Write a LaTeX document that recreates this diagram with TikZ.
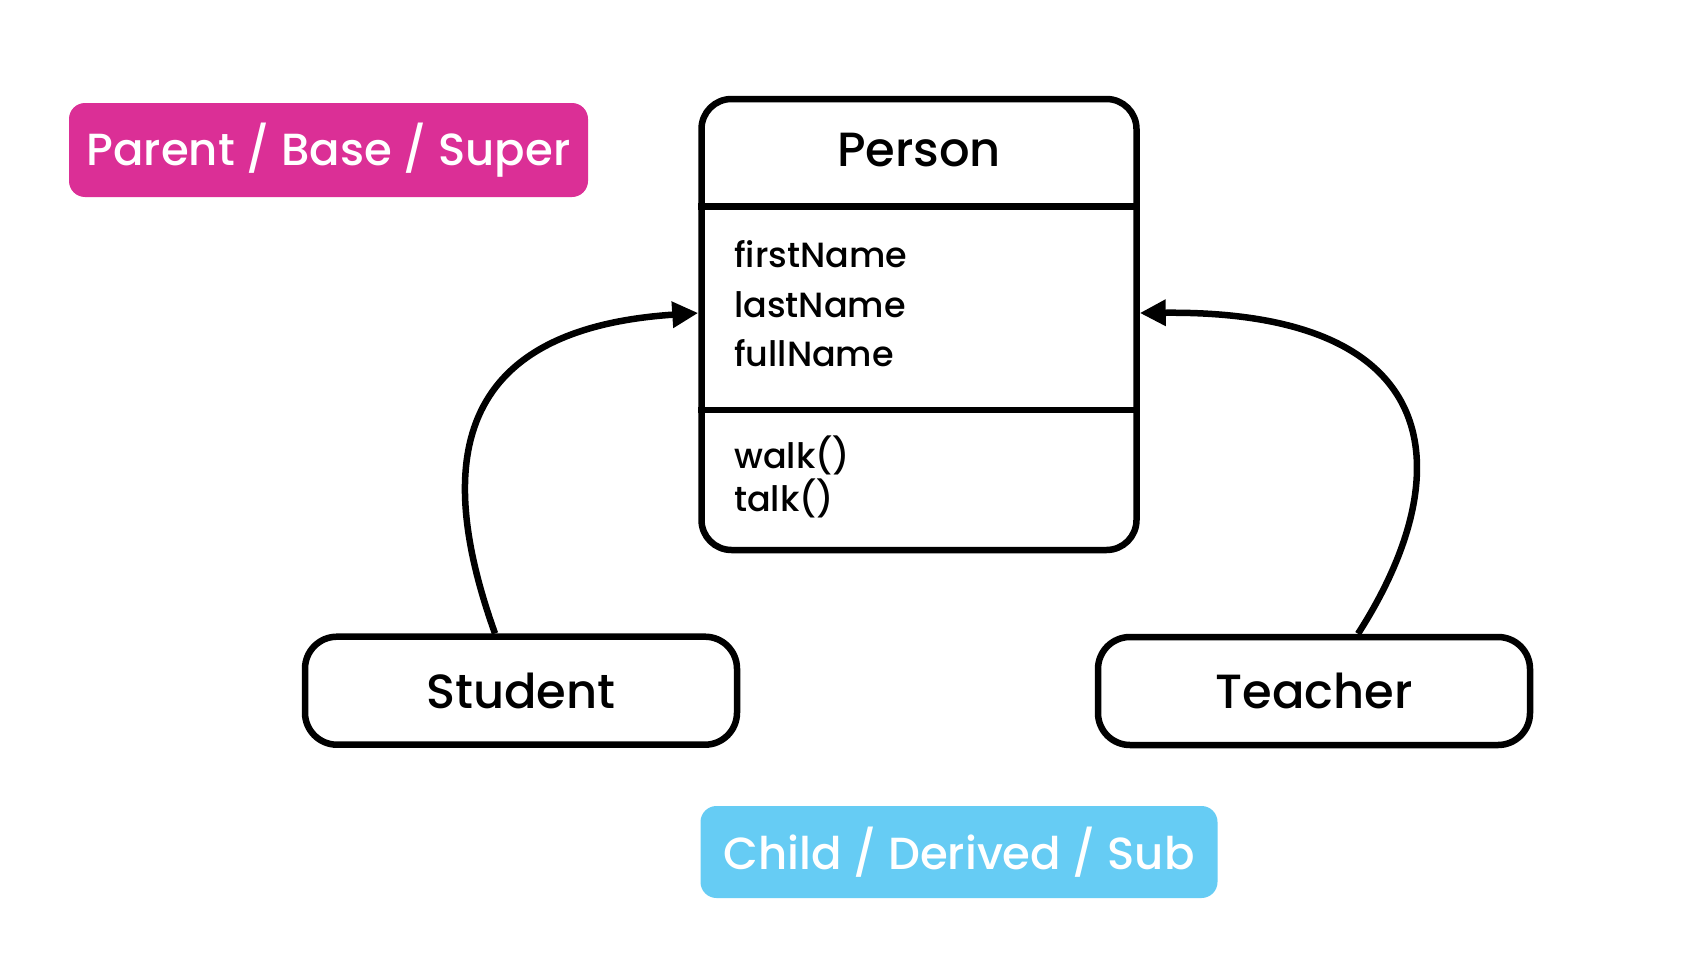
\documentclass[tikz,border=0pt]{standalone}
\usepackage{fontspec}
\setmainfont{Poppins}[UprightFont={* Medium}, BoldFont={* SemiBold}]
\usetikzlibrary{arrows.meta}
\definecolor{pinkbox}{HTML}{DB2F96}
\definecolor{bluebox}{HTML}{66CCF4}
\tikzset{
  umlline/.style={line width=6.5pt, black},
  classbox/.style={umlline, draw, rectangle, rounded corners=30pt, minimum width=435pt, minimum height=451pt, inner sep=0pt},
  kidbox/.style={umlline, draw, rectangle, rounded corners=32pt, minimum width=432pt, minimum height=108pt, inner sep=0pt, font=\fontsize{48}{58}\selectfont},
  tagbox/.style={rectangle, rounded corners=16pt, inner sep=0pt, text=white, font=\fontsize{45}{54}\selectfont},
  member/.style={anchor=base west, inner sep=0pt, font=\fontsize{35}{42}\selectfont},
  inherit/.style={umlline, -{Triangle[length=26pt, width=25pt]}},
}
\begin{document}
\begin{tikzpicture}[x=1pt, y=-1pt]
\useasboundingbox[fill=white] (0,0) rectangle (1708,966);
% labels
\node[tagbox, fill=pinkbox, minimum width=519pt, minimum height=94pt] (parent) at (328.5,150) {Parent / Base / Super};
\node[tagbox, fill=bluebox, minimum width=517pt, minimum height=92pt] (child) at (959,852) {Child / Derived / Sub};
% Person class
\node[classbox] (person) at (919,324.5) {};
\node[inner sep=0pt, font=\fontsize{48}{58}\selectfont] (ptitle) at (919,150) {Person};
\draw[umlline] (person.west |- 0,206.5) coordinate (d1l) -- (person.east |- 0,206.5) coordinate (d1r);
\draw[umlline] (person.west |- 0,410) coordinate (d2l) -- (person.east |- 0,410) coordinate (d2r);
\node[member] (a1) at (734,267) {firstName};
\node[member] (a2) at (734,317) {lastName};
\node[member] (a3) at (734,366) {fullName};
\node[member] (m1) at (734,468) {walk()};
\node[member] (m2) at (734,511) {talk()};
% children
\node[kidbox] (student) at (521,690.7) {Student};
\node[kidbox] (teacher) at (1314,691) {Teacher};
% inheritance arrows
\draw[inherit] ([xshift=-26pt]student.north) .. controls (440,480) and (440,330) .. ([yshift=11.5pt]person.west);
\draw[inherit] ([xshift=44pt]teacher.north) .. controls (1460,475) and (1450,310) .. ([yshift=11.5pt]person.east);
\end{tikzpicture}
\end{document}
